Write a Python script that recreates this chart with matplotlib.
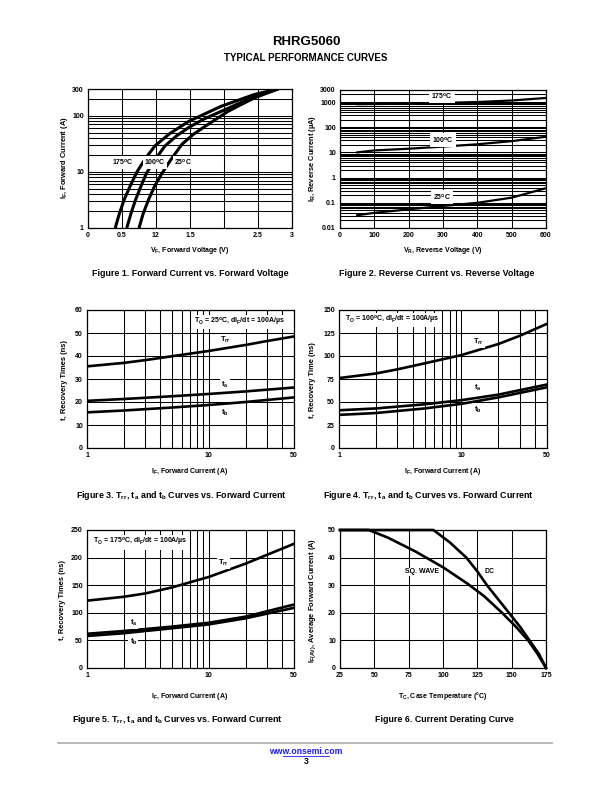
import matplotlib
matplotlib.use("Agg")
import matplotlib.pyplot as plt
from matplotlib.ticker import NullFormatter, FixedLocator

plt.rcParams['font.family'] = ['Liberation Sans', 'DejaVu Sans']
plt.rcParams['font.weight'] = 'bold'
plt.rcParams['mathtext.fontset'] = 'custom'
plt.rcParams['mathtext.rm'] = 'Liberation Sans:bold'
plt.rcParams['mathtext.it'] = 'Liberation Sans:bold'
plt.rcParams['mathtext.bf'] = 'Liberation Sans:bold'

# ---------------- data ----------------
# Figure 1: forward current vs forward voltage
f1_v175 = [0.40, 0.46, 0.53, 0.62, 0.72, 0.85, 0.99, 1.20, 1.48, 1.96, 2.45, 2.80]
f1_i175 = [1.0, 1.78, 3.16, 5.6, 10, 17.8, 29.5, 47.9, 79.4, 148, 240, 302]
f1_v100 = [0.57, 0.63, 0.70, 0.78, 0.86, 1.00, 1.13, 1.30, 1.48, 1.70, 1.96, 2.20, 2.45, 2.80]
f1_i100 = [1.0, 1.78, 3.2, 5.6, 9.5, 17.4, 28.8, 43.6, 61.7, 87, 120, 162, 219, 302]
f1_v25 = [0.75, 0.81, 0.89, 0.98, 1.09, 1.22, 1.38, 1.55, 1.72, 2.06, 2.25, 2.45, 2.80]
f1_i25 = [1.0, 1.78, 3.2, 5.6, 9.5, 16.6, 30.9, 46.8, 64.6, 120, 158, 209, 302]
f1_xticks = [0, 0.5, 1.0, 1.5, 2.0, 2.5, 3.0]
f1_xticklabels = ['0', '0.5', '12', '1.5', '', '2.5', '3']
f1_yticks = [1, 10, 100, 300]
f1_yticklabels = ['1', '10', '100', '300']

# Figure 2: reverse current vs reverse voltage
f2_v = [50, 100, 200, 300, 400, 500, 600]
f2_i175 = [820, 830, 860, 920, 1000, 1150, 1450]
f2_i100 = [10, 12, 14, 17, 21, 28, 42]
f2_i25 = [0.032, 0.040, 0.055, 0.075, 0.10, 0.16, 0.38]
f2_xticks = [0, 100, 200, 300, 400, 500, 600]
f2_yticks = [0.01, 0.1, 1, 10, 100, 1000, 3000]
f2_yticklabels = ['0.01', '0.1', '1', '10', '100', '1000', '3000']

# Figures 3-5: recovery times vs forward current
if_major = [1, 10, 50]
if_grid = [2, 3, 4, 5, 6, 7, 8, 9, 20, 30, 40]

f3_trr_x = [1, 2, 3, 5, 10, 20, 30, 50]
f3_trr = [35.5, 37, 38.2, 39.9, 42.2, 44.8, 46.5, 48.5]
f3_t_x = [1, 2, 5, 10, 20, 50]
f3_ta = [20.5, 21.3, 22.5, 23.5, 24.6, 26.3]
f3_tb = [15.5, 16.3, 17.6, 18.7, 20, 22]
f3_yticks = [0, 10, 20, 30, 40, 50, 60]

f4_trr_x = [1, 2, 3, 5, 10, 20, 30, 50]
f4_trr = [76, 81, 85.5, 92, 101, 113, 122, 135]
f4_t_x = [1, 2, 5, 10, 20, 50]
f4_ta = [41, 43, 47.5, 52, 58, 69]
f4_tb = [36, 38, 43, 48, 55, 66]
f4_yticks = [0, 25, 50, 75, 100, 125, 150]

f5_trr_x = [1, 2, 3, 5, 10, 20, 30, 50]
f5_trr = [122, 129, 135, 146, 165, 189, 205, 225]
f5_t_x = [1, 2, 5, 10, 20, 50]
f5_ta = [62, 67, 75, 82, 93, 115]
f5_tb = [58, 63, 72, 79, 90, 109]
f5_yticks = [0, 50, 100, 150, 200, 250]

# Figure 6: current derating
f6_dc_t = [25, 93, 105, 117, 125, 132, 140, 148, 156, 163, 170, 175]
f6_dc_i = [50, 50, 45.5, 40, 35, 30, 25, 20, 15, 10, 5, 0]
f6_sq_t = [25, 46, 60, 80, 100, 118, 130, 143, 153, 162, 169, 175]
f6_sq_i = [50, 50, 47.2, 42.2, 36.5, 30.5, 26, 20, 15, 10, 5, 0]
f6_xticks = [25, 50, 75, 100, 125, 150, 175]
f6_yticks = [0, 10, 20, 30, 40, 50]

# ---------------- layout ----------------
W, H = 612, 792
fig = plt.figure(figsize=(W / 100, H / 100), dpi=100)

def axes_px(l, t, r, b):
    return fig.add_axes([l / W, 1 - b / H, (r - l) / W, (b - t) / H])

def ftext(x, y, s, **kw):
    kw.setdefault('ha', 'center')
    kw.setdefault('va', 'center')
    kw.setdefault('fontweight', 'bold')
    return fig.text(x / W, 1 - y / H, s, **kw)

TICK_FS = 5
XLAB_FS = 5.0
YLAB_FS = 5.4
CAP_FS = 6.4
GRID_LW = 0.75
BOX = dict(facecolor='white', edgecolor='none', pad=0.8)

def style(ax):
    for s in ax.spines.values():
        s.set_linewidth(0.9)
        s.set_color('black')
        s.set_zorder(5)
    ax.tick_params(which='both', length=0, labelsize=TICK_FS, pad=3)
    for lab in ax.get_xticklabels() + ax.get_yticklabels():
        lab.set_fontweight('bold')
    ax.grid(True, which='both', color='black', linewidth=GRID_LW)
    ax.set_axisbelow(True)

# Header
ftext(306, 42, 'RHRG5060', fontsize=9.5)
ftext(306, 58, 'TYPICAL PERFORMANCE CURVES', fontsize=7.0)

# ---- Figure 1 ----
ax1 = axes_px(88, 89, 292, 228)
ax1.set_yscale('log')
ax1.set_xlim(0, 3)
ax1.set_ylim(1, 300)
ax1.set_xticks(f1_xticks)
ax1.set_xticklabels(f1_xticklabels)
ax1.set_yticks(f1_yticks)
ax1.set_yticklabels(f1_yticklabels)
ax1.yaxis.set_minor_locator(FixedLocator([2, 3, 4, 5, 6, 7, 8, 9, 20, 30, 40, 50, 60, 70, 80, 90, 200]))
ax1.yaxis.set_minor_formatter(NullFormatter())
style(ax1)
for v, i in [(f1_v175, f1_i175), (f1_v100, f1_i100), (f1_v25, f1_i25)]:
    ax1.plot(v, i, color='black', lw=2.2, solid_capstyle='butt', solid_joinstyle='round', zorder=3)
ax1.text(0.51, 14.7, '175$^\\mathregular{o}$C', fontsize=TICK_FS, ha='center', va='center', bbox=BOX, zorder=4)
ax1.text(0.98, 14.7, '100$^\\mathregular{o}$C', fontsize=TICK_FS, ha='center', va='center', bbox=BOX, zorder=4)
ax1.text(1.40, 14.7, '25$^\\mathregular{o}$C', fontsize=TICK_FS, ha='center', va='center', bbox=BOX, zorder=4)
ftext(190, 251, 'V$_\\mathregular{F}$, Forward Voltage (V)', fontsize=XLAB_FS)
ftext(65, 158, 'I$_\\mathregular{F}$, Forward Current (A)', fontsize=YLAB_FS, rotation=90)
ftext(190, 273, 'Figure 1. Forward Current vs. Forward Voltage', fontsize=CAP_FS)

# ---- Figure 2 ----
ax2 = axes_px(340, 90, 546, 228)
ax2.set_yscale('log')
ax2.set_xlim(0, 600)
ax2.set_ylim(0.01, 3000)
ax2.set_xticks(f2_xticks)
ax2.set_yticks(f2_yticks)
ax2.set_yticklabels(f2_yticklabels)
minors = []
for d in [0.01, 0.1, 1, 10, 100]:
    minors += [d * k for k in range(2, 10)]
minors += [2000]
ax2.yaxis.set_minor_locator(FixedLocator(minors))
ax2.yaxis.set_minor_formatter(NullFormatter())
style(ax2)
for i in [f2_i175, f2_i100, f2_i25]:
    ax2.plot(f2_v, i, color='black', lw=1.6, solid_joinstyle='round', zorder=3)
LBOX = dict(facecolor='white', edgecolor='none', pad=1.5)
ax2.text(297, 1740, '175$^\\mathregular{o}$C', fontsize=TICK_FS, ha='center', va='center', bbox=LBOX, zorder=4)
ax2.text(300, 32, '100$^\\mathregular{o}$C', fontsize=TICK_FS, ha='center', va='center', bbox=LBOX, zorder=4)
ax2.text(297, 0.174, '25$^\\mathregular{o}$C', fontsize=TICK_FS, ha='center', va='center', bbox=LBOX, zorder=4)
ftext(443, 251, 'V$_\\mathregular{R}$, Reverse Voltage (V)', fontsize=XLAB_FS)
ftext(313, 158, 'I$_\\mathregular{R}$, Reverse Current (\u00b5A)', fontsize=YLAB_FS, rotation=90)
ftext(437, 273, 'Figure 2. Reverse Current vs. Reverse Voltage', fontsize=CAP_FS)

# ---- Figures 3-5 ----
def rec_axes(l, t, r, b, yticks):
    ax = axes_px(l, t, r, b)
    ax.set_xscale('log')
    ax.set_xlim(1, 50)
    ax.set_ylim(yticks[0], yticks[-1])
    ax.set_xticks(if_major)
    ax.set_xticklabels([str(v) for v in if_major])
    ax.xaxis.set_minor_locator(FixedLocator(if_grid))
    ax.xaxis.set_minor_formatter(NullFormatter())
    ax.set_yticks(yticks)
    ax.set_yticklabels([str(v) for v in yticks])
    style(ax)
    return ax

def rec_curves(ax, trr_x, trr, t_x, ta, tb):
    for x, y in [(trr_x, trr), (t_x, ta), (t_x, tb)]:
        ax.plot(x, y, color='black', lw=1.9, solid_joinstyle='round', zorder=3)

ax3 = rec_axes(87, 310, 294, 448, f3_yticks)
rec_curves(ax3, f3_trr_x, f3_trr, f3_t_x, f3_ta, f3_tb)
ax3.text(0.957, 0.913, 'T$_\\mathregular{O}$ = 25$^\\mathregular{o}$C, dI$_\\mathregular{F}$/dt = 100A/\u00b5s',
         transform=ax3.transAxes, fontsize=TICK_FS, ha='right', va='center', bbox=BOX, zorder=4)
ax3.text(13.6, 47, 'T$_\\mathregular{rr}$', fontsize=5.5, ha='center', va='center', bbox=BOX, zorder=4)
ax3.text(13.6, 27.4, 't$_\\mathregular{a}$', fontsize=5.5, ha='center', va='center', bbox=BOX, zorder=4)
ax3.text(13.6, 15.2, 't$_\\mathregular{b}$', fontsize=5.5, ha='center', va='center', bbox=BOX, zorder=4)
ftext(190, 472, 'I$_\\mathregular{F}$, Forward Current (A)', fontsize=XLAB_FS)
ftext(64, 380, 't, Recovery Times (ns)', fontsize=YLAB_FS, rotation=90)
ftext(181, 496, 'Figure 3. T$_\\mathregular{rr}$, t$_\\mathregular{a}$ and t$_\\mathregular{b}$ Curves vs. Forward Current', fontsize=CAP_FS)

ax4 = rec_axes(339, 310, 547, 448, f4_yticks)
rec_curves(ax4, f4_trr_x, f4_trr, f4_t_x, f4_ta, f4_tb)
ax4.text(0.03, 0.93, 'T$_\\mathregular{O}$ = 100$^\\mathregular{o}$C, dI$_\\mathregular{F}$/dt = 100A/\u00b5s',
         transform=ax4.transAxes, fontsize=TICK_FS, ha='left', va='center', bbox=BOX, zorder=4)
ax4.text(13.7, 115, 'T$_\\mathregular{rr}$', fontsize=5.5, ha='center', va='center', bbox=BOX, zorder=4)
ax4.text(13.7, 65, 't$_\\mathregular{a}$', fontsize=5.5, ha='center', va='center', bbox=BOX, zorder=4)
ax4.text(13.7, 41, 't$_\\mathregular{b}$', fontsize=5.5, ha='center', va='center', bbox=BOX, zorder=4)
ftext(443, 472, 'I$_\\mathregular{F}$, Forward Current (A)', fontsize=XLAB_FS)
ftext(313, 380, 't, Recovery Time (ns)', fontsize=YLAB_FS, rotation=90)
ftext(428, 496, 'Figure 4. T$_\\mathregular{rr}$, t$_\\mathregular{a}$ and t$_\\mathregular{b}$ Curves vs. Forward Current', fontsize=CAP_FS)

ax5 = rec_axes(87, 530, 294, 668, f5_yticks)
rec_curves(ax5, f5_trr_x, f5_trr, f5_t_x, f5_ta, f5_tb)
ax5.text(0.03, 0.91, 'T$_\\mathregular{O}$ = 175$^\\mathregular{o}$C, dI$_\\mathregular{F}$/dt = 100A/\u00b5s',
         transform=ax5.transAxes, fontsize=TICK_FS, ha='left', va='center', bbox=BOX, zorder=4)
ax5.text(13.1, 190, 'T$_\\mathregular{rr}$', fontsize=5.5, ha='center', va='center', bbox=BOX, zorder=4)
ax5.text(2.4, 81.5, 't$_\\mathregular{a}$', fontsize=5.5, ha='center', va='center', bbox=BOX, zorder=4)
ax5.text(2.4, 47, 't$_\\mathregular{b}$', fontsize=5.5, ha='center', va='center', bbox=BOX, zorder=4)
ftext(190, 696, 'I$_\\mathregular{F}$, Forward Current (A)', fontsize=XLAB_FS)
ftext(63, 600, 't, Recovery Times (ns)', fontsize=YLAB_FS, rotation=90)
ftext(177, 720, 'Figure 5. T$_\\mathregular{rr}$, t$_\\mathregular{a}$ and t$_\\mathregular{b}$ Curves vs. Forward Current', fontsize=CAP_FS)

# ---- Figure 6 ----
ax6 = axes_px(340, 530, 546, 668)
ax6.set_xlim(25, 175)
ax6.set_ylim(0, 50)
ax6.set_xticks(f6_xticks)
ax6.set_yticks(f6_yticks)
style(ax6)
ax6.plot(f6_dc_t, f6_dc_i, color='black', lw=1.9, solid_joinstyle='round', zorder=3, clip_on=False)
ax6.plot(f6_sq_t, f6_sq_i, color='black', lw=1.9, solid_joinstyle='round', zorder=3, clip_on=False)
SBOX = dict(facecolor='white', edgecolor='none', pad=0.3)
ax6.text(85, 34.8, 'SQ. WAVE', fontsize=TICK_FS, ha='center', va='center', bbox=SBOX, zorder=2.5)
ax6.text(134, 34.8, 'DC', fontsize=TICK_FS, ha='center', va='center', bbox=SBOX, zorder=2.5)
ftext(443, 696, 'T$_\\mathregular{C}$, Case Temperature (\u00b0C)', fontsize=XLAB_FS)
ftext(313, 600, 'I$_\\mathregular{F(AV)}$, Average Forward Current (A)', fontsize=YLAB_FS, rotation=90)
ftext(444, 720, 'Figure 6. Current Derating Curve', fontsize=CAP_FS)

# Footer
fig.add_artist(plt.Line2D([58 / W, 552 / W], [1 - 743 / H, 1 - 743 / H], color='#b4b4b4', lw=1.3))
ftext(306, 752, 'www.onsemi.com', fontsize=6.2, color='#1a1aff')
fig.add_artist(plt.Line2D([283 / W, 329 / W], [1 - 756 / H, 1 - 756 / H], color='#1a1aff', lw=0.6))
ftext(306, 762, '3', fontsize=6.2)

fig.savefig('out.png', dpi=100)
